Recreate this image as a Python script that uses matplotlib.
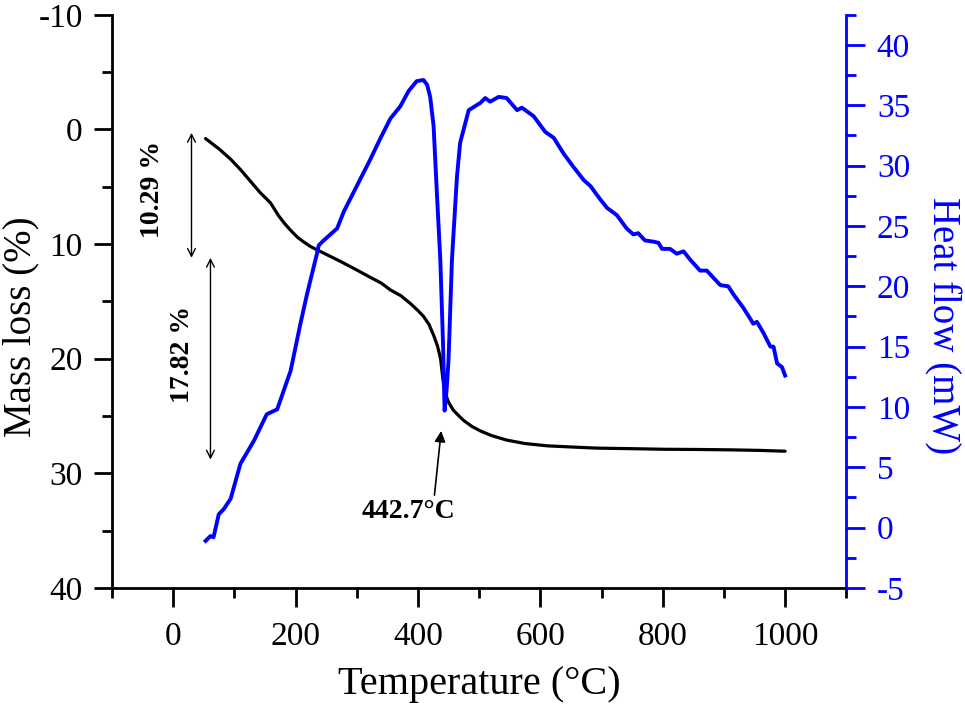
import matplotlib
matplotlib.use("Agg")
import matplotlib.pyplot as plt
from matplotlib.ticker import MultipleLocator

plt.rcParams['font.family'] = ['Liberation Serif', 'DejaVu Serif']
plt.rcParams['axes.unicode_minus'] = False

# ---- data ----
mass_T = [53, 75, 94, 110, 126, 142, 159, 172, 182, 192, 203, 213, 224, 235, 254, 273,
          298, 322, 340, 355, 372, 388, 400, 409, 418, 426, 432, 437, 442, 446, 450,
          458, 469, 475, 488, 502, 520, 545, 575, 611, 650, 692, 750, 801, 860, 910, 960, 1000]
mass_loss = [0.8, 1.7, 2.6, 3.5, 4.5, 5.5, 6.4, 7.5, 8.2, 8.8, 9.4, 9.8, 10.2, 10.5, 11.0, 11.5,
             12.2, 12.9, 13.4, 14.0, 14.5, 15.2, 15.8, 16.3, 17.0, 18.0, 18.9, 20.0, 22.3, 23.2, 23.8,
             24.5, 25.1, 25.4, 25.9, 26.3, 26.7, 27.1, 27.4, 27.6, 27.7, 27.8, 27.85, 27.9, 27.92,
             27.95, 28.0, 28.07]

heat_T = [53, 61, 66, 74.5, 83, 94, 110, 132, 153, 170, 181, 192, 208, 219, 235, 238,
          246, 268, 279, 300, 322, 339, 355, 371, 385, 398, 409, 415, 420, 425.6, 431,
          436.6, 441, 443.6, 447, 450, 455.6, 463.8, 469, 483, 502, 510, 518, 532, 545,
          562, 570, 589, 608, 622, 638, 654, 671, 682, 698, 709, 725, 741, 752, 760,
          771, 785, 793, 799, 812, 823, 834, 845, 861, 872, 883, 894, 907, 916, 932,
          948, 954, 965, 976, 981, 987, 995, 1000]
heat_flow = [-1.1, -0.7, -0.8, 1.1, 1.55, 2.4, 5.3, 7.2, 9.4, 9.8, 11.4, 13.0, 16.9, 19.4,
             22.7, 23.4, 23.8, 24.8, 26.2, 28.3, 30.5, 32.3, 33.9, 34.9, 36.2, 37.0, 37.1,
             36.7, 35.7, 33.3, 27.7, 22.2, 15.3, 9.7, 11.5, 13.9, 22.2, 29.1, 31.9, 34.6,
             35.2, 35.6, 35.3, 35.7, 35.6, 34.6, 34.8, 34.1, 32.8, 32.3, 31.0, 29.9, 28.8,
             28.3, 27.2, 26.5, 25.9, 24.8, 24.3, 24.4, 23.8, 23.7, 23.6, 23.1, 23.1, 22.7,
             22.9, 22.2, 21.3, 21.3, 20.7, 20.1, 20.0, 19.3, 18.2, 16.9, 17.05, 16.1, 15.0,
             15.0, 13.6, 13.3, 12.6]

step1_label = "10.29 %"
step2_label = "17.82 %"
peak_label = "442.7°C"

fig = plt.figure(figsize=(9.65, 7.05), dpi=100)
ax = fig.add_axes([0.116, 0.166, 0.761, 0.813])
ax2 = ax.twinx()

ax.plot(mass_T, mass_loss, color='black', lw=2.3, solid_capstyle='round',
        solid_joinstyle='round', zorder=3)
ax2.plot(heat_T, heat_flow, color='#0000ff', lw=2.8, solid_joinstyle='round', zorder=3)

ax.set_xlim(-100, 1100)
ax.set_ylim(40, -10)
ax2.set_ylim(-5, 42.5)

ax.xaxis.set_major_locator(MultipleLocator(200))
ax.xaxis.set_minor_locator(MultipleLocator(100))
ax.yaxis.set_major_locator(MultipleLocator(10))
ax.yaxis.set_minor_locator(MultipleLocator(5))
ax2.yaxis.set_major_locator(MultipleLocator(5))
ax2.yaxis.set_minor_locator(MultipleLocator(2.5))

for a in (ax, ax2):
    a.spines['top'].set_visible(False)
ax.spines['right'].set_visible(False)
ax.spines['left'].set_linewidth(2)
ax.spines['bottom'].set_linewidth(2)
ax2.spines['left'].set_visible(False)
ax2.spines['bottom'].set_visible(False)
ax2.spines['right'].set_color('#0000ff')
ax2.spines['right'].set_linewidth(2)

ax.tick_params(axis='x', which='major', direction='out', length=14, width=2, labelsize=24, pad=10)
ax.tick_params(axis='x', which='minor', direction='out', length=7, width=2)
ax.tick_params(axis='y', which='major', direction='out', length=13, width=2, labelsize=24, pad=8)
ax.tick_params(axis='y', which='minor', direction='out', length=7, width=2)
ax2.tick_params(axis='y', which='major', direction='out', length=14, width=2, labelsize=24,
                pad=8, colors='#0000ff')
ax2.tick_params(axis='y', which='minor', direction='out', length=7, width=2, colors='#0000ff')

ax.set_xlabel("Temperature (°C)", fontsize=29, va='center')
ax.xaxis.set_label_coords(0.5, -0.168)
ax.set_ylabel("Mass loss (%)", fontsize=28, va='center')
ax.yaxis.set_label_coords(-0.124, 0.455)
ax2.set_ylabel("Heat flow (mW)", fontsize=28, color='#0000ff', rotation=270, va='center')
ax2.yaxis.set_label_coords(1.13, 0.457)

# annotations
ax.annotate('', xy=(30, 0.3), xytext=(30, 11.2),
            arrowprops=dict(arrowstyle='<->', lw=1.0, color='black', mutation_scale=14,
                            shrinkA=0, shrinkB=0))
ax.annotate('', xy=(61, 11.2), xytext=(61, 28.8),
            arrowprops=dict(arrowstyle='<->', lw=1.0, color='black', mutation_scale=14,
                            shrinkA=0, shrinkB=0))
ax.text(-34, 5.2, step1_label, rotation=90, ha='center', va='center', fontsize=20,
        fontweight='bold')
ax.text(15, 19.6, step2_label, rotation=90, ha='center', va='center', fontsize=20,
        fontweight='bold')
ax.annotate('', xy=(438, 26.3), xytext=(427, 31.9),
            arrowprops=dict(arrowstyle='-|>', lw=1.2, color='black', mutation_scale=16,
                            shrinkA=0, shrinkB=0))
ax.text(384, 33.3, peak_label, ha='center', va='center', fontsize=20, fontweight='bold')

fig.savefig("out.png", dpi=100)
